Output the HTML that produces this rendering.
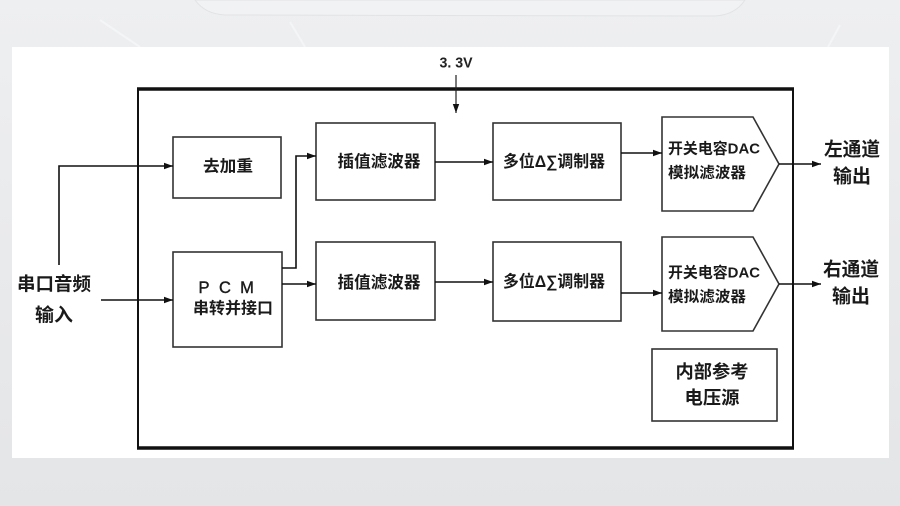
<!DOCTYPE html>
<html>
<head>
<meta charset="utf-8">
<style>
  html,body{margin:0;padding:0;background:#e7e8ea;}
  svg{display:block;}
  .cj{font-family:"Liberation Sans","Noto Sans CJK SC","WenQuanYi Zen Hei",sans-serif;font-weight:bold;fill:#1a1a1a;}
</style>
</head>
<body>
<svg width="900" height="506" viewBox="0 0 900 506" xmlns="http://www.w3.org/2000/svg">
  <defs>
    <linearGradient id="bg" x1="0" y1="0" x2="0" y2="1">
      <stop offset="0" stop-color="#eeeff0"/>
      <stop offset="0.5" stop-color="#e9eaec"/>
      <stop offset="1" stop-color="#e4e5e7"/>
    </linearGradient>
    <marker id="ah" markerWidth="10" markerHeight="8" refX="9" refY="4" orient="auto" markerUnits="userSpaceOnUse">
      <path d="M0,0.8 L9,4 L0,7.2 Z" fill="#111"/>
    </marker>
  </defs>

  <!-- background -->
  <rect x="0" y="0" width="900" height="506" fill="url(#bg)"/>
  <path d="M195,0 Q205,14 225,15 L715,16 Q735,15 745,0 Z" fill="#f1f2f3" stroke="#e2e3e5" stroke-width="1"/>
  <path d="M100,20 L140,47" stroke="#f4f5f6" stroke-width="2"/>
  <path d="M290,22 L305,47" stroke="#f4f5f6" stroke-width="2"/>
  <path d="M840,25 L828,47" stroke="#f4f5f6" stroke-width="2"/>

  <!-- white panel -->
  <rect x="12" y="47" width="877" height="411" fill="#ffffff"/>

  <!-- outer box -->
  <rect x="138" y="88.5" width="655" height="359.5" fill="none" stroke="#111" stroke-width="2"/>
  <line x1="137" y1="89" x2="794" y2="89" stroke="#111" stroke-width="3.5"/>
  <line x1="137" y1="448" x2="794" y2="448" stroke="#111" stroke-width="3.5"/>

  <!-- 3.3V -->
  <text x="456" y="63" text-anchor="middle" dominant-baseline="central" font-family="'Liberation Sans Narrow','Liberation Sans',sans-serif" font-size="15" font-weight="bold" fill="#222" textLength="33" lengthAdjust="spacingAndGlyphs">3. 3V</text>
  <line x1="456" y1="75" x2="456" y2="113" stroke="#222" stroke-width="1.2" marker-end="url(#ah)"/>

  <!-- boxes -->
  <g fill="#fff" stroke="#333" stroke-width="1.6">
    <rect x="173" y="137" width="108" height="61"/>
    <rect x="316" y="123" width="119" height="77"/>
    <rect x="493" y="123" width="128" height="77"/>
    <polygon points="662,117 753,117 779,164 753,211 662,211"/>
    <rect x="173" y="252" width="109" height="95"/>
    <rect x="316" y="242" width="119" height="78"/>
    <rect x="493" y="242" width="128" height="79"/>
    <polygon points="662,237 753,237 779,284 753,331 662,331"/>
    <rect x="652" y="349" width="125" height="72"/>
  </g>

  <!-- connectors -->
  <g fill="none" stroke="#111" stroke-width="1.6">
    <polyline points="59,265 59,166 173,166" marker-end="url(#ah)"/>
    <line x1="101" y1="300" x2="173" y2="300" marker-end="url(#ah)"/>
    <polyline points="282,268 296,268 296,156 316,156" marker-end="url(#ah)"/>
    <line x1="282" y1="284" x2="316" y2="284" marker-end="url(#ah)"/>
    <line x1="435" y1="162" x2="493" y2="162" marker-end="url(#ah)"/>
    <line x1="435" y1="282" x2="493" y2="282" marker-end="url(#ah)"/>
    <line x1="621" y1="153" x2="662" y2="153" marker-end="url(#ah)"/>
    <line x1="621" y1="293" x2="662" y2="293" marker-end="url(#ah)"/>
    <line x1="779" y1="164" x2="821" y2="164" marker-end="url(#ah)"/>
    <line x1="779" y1="284" x2="821" y2="284" marker-end="url(#ah)"/>
  </g>

  <!-- labels -->
  <g class="cj" dominant-baseline="central">
    <text x="54" y="284" font-size="18.5" text-anchor="middle" textLength="74" lengthAdjust="spacingAndGlyphs">串口音频</text>
    <text x="54" y="315" font-size="18.5" text-anchor="middle" textLength="38" lengthAdjust="spacingAndGlyphs">输入</text>

    <text x="228" y="167" font-size="16" text-anchor="middle" textLength="50" lengthAdjust="spacingAndGlyphs">去加重</text>

    <text x="204" y="288" font-size="16.5" text-anchor="middle" font-weight="normal" stroke="#1a1a1a" stroke-width="0.4">P</text>
    <text x="225" y="288" font-size="16.5" text-anchor="middle" font-weight="normal" stroke="#1a1a1a" stroke-width="0.4">C</text>
    <text x="247" y="288" font-size="16.5" text-anchor="middle" font-weight="normal" stroke="#1a1a1a" stroke-width="0.4">M</text>
    <text x="233" y="309" font-size="16" text-anchor="middle" textLength="80" lengthAdjust="spacingAndGlyphs">串转并接口</text>

    <text x="379" y="162" font-size="16.5" text-anchor="middle" textLength="83" lengthAdjust="spacingAndGlyphs">插值滤波器</text>
    <text x="379" y="283" font-size="16.5" text-anchor="middle" textLength="83" lengthAdjust="spacingAndGlyphs">插值滤波器</text>

    <text x="554" y="162" font-size="16.5" text-anchor="middle" textLength="102" lengthAdjust="spacingAndGlyphs">多位Δ∑调制器</text>
    <text x="554" y="282" font-size="16.5" text-anchor="middle" textLength="102" lengthAdjust="spacingAndGlyphs">多位Δ∑调制器</text>

    <text x="668" y="149" font-size="15" textLength="92" lengthAdjust="spacingAndGlyphs">开关电容DAC</text>
    <text x="668" y="173" font-size="15" textLength="78" lengthAdjust="spacingAndGlyphs">模拟滤波器</text>
    <text x="668" y="273" font-size="15" textLength="92" lengthAdjust="spacingAndGlyphs">开关电容DAC</text>
    <text x="668" y="297" font-size="15" textLength="78" lengthAdjust="spacingAndGlyphs">模拟滤波器</text>

    <text x="852" y="150" font-size="19" text-anchor="middle" textLength="56" lengthAdjust="spacingAndGlyphs">左通道</text>
    <text x="852" y="177" font-size="19" text-anchor="middle" textLength="38" lengthAdjust="spacingAndGlyphs">输出</text>
    <text x="851" y="270" font-size="19" text-anchor="middle" textLength="56" lengthAdjust="spacingAndGlyphs">右通道</text>
    <text x="851" y="297" font-size="19" text-anchor="middle" textLength="38" lengthAdjust="spacingAndGlyphs">输出</text>

    <text x="712" y="372" font-size="18" text-anchor="middle" textLength="73" lengthAdjust="spacingAndGlyphs">内部参考</text>
    <text x="712" y="398" font-size="18" text-anchor="middle" textLength="55" lengthAdjust="spacingAndGlyphs">电压源</text>
  </g>
</svg>
</body>
</html>
